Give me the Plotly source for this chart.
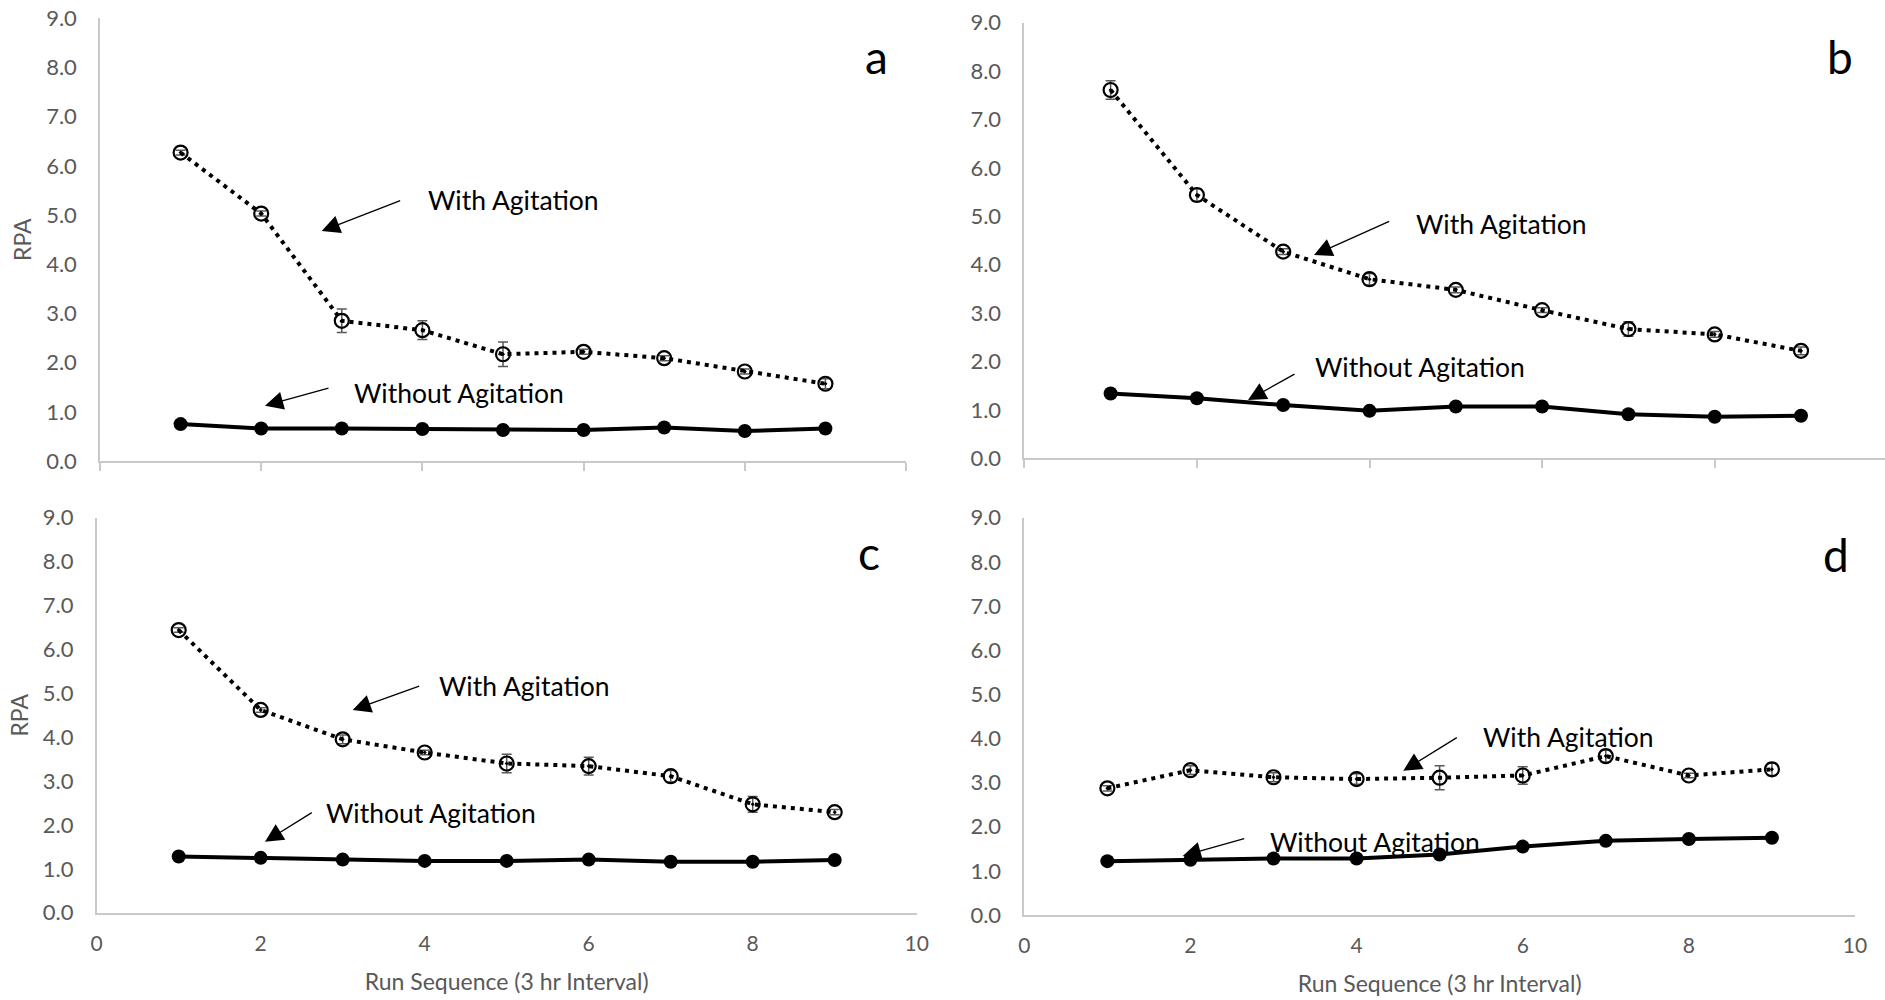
import plotly.graph_objects as go

# ---------------- data ----------------
runs = [1, 2, 3, 4, 5, 6, 7, 8, 9]

a_with = [6.27, 5.03, 2.85, 2.66, 2.17, 2.22, 2.09, 1.82, 1.57]
a_with_err = [0.05, 0.05, 0.24, 0.19, 0.25, 0.05, 0.05, 0.05, 0.10]
a_without = [0.75, 0.66, 0.66, 0.65, 0.63, 0.63, 0.68, 0.61, 0.66]
a_without_err = [0.03, 0.03, 0.03, 0.03, 0.03, 0.03, 0.03, 0.03, 0.03]

b_with = [7.61, 5.44, 4.27, 3.70, 3.48, 3.06, 2.67, 2.56, 2.22]
b_with_err = [0.19, 0.13, 0.06, 0.12, 0.06, 0.05, 0.15, 0.06, 0.08]
b_without = [1.34, 1.24, 1.10, 0.98, 1.07, 1.07, 0.91, 0.86, 0.88]
b_without_err = [0.08, 0.09, 0.03, 0.03, 0.03, 0.03, 0.03, 0.03, 0.03]

c_with = [6.44, 4.62, 3.95, 3.65, 3.40, 3.34, 3.11, 2.47, 2.29]
c_with_err = [0.05, 0.05, 0.10, 0.05, 0.21, 0.20, 0.13, 0.18, 0.06]
c_without = [1.28, 1.25, 1.21, 1.18, 1.18, 1.21, 1.16, 1.16, 1.20]
c_without_err = [0.03, 0.03, 0.03, 0.03, 0.03, 0.03, 0.03, 0.03, 0.03]

d_with = [2.87, 3.28, 3.12, 3.08, 3.11, 3.16, 3.60, 3.16, 3.30]
d_with_err = [0.06, 0.10, 0.10, 0.12, 0.27, 0.20, 0.14, 0.05, 0.14]
d_without = [1.22, 1.25, 1.28, 1.28, 1.37, 1.55, 1.68, 1.72, 1.75]
d_without_err = [0.03, 0.03, 0.03, 0.03, 0.03, 0.03, 0.03, 0.03, 0.03]

panel_letters = ["a", "b", "c", "d"]
label_with = "With Agitation"
label_without = "Without Agitation"
y_title = "RPA"
x_title = "Run Sequence (3 hr Interval)"
y_ticks = [0, 1, 2, 3, 4, 5, 6, 7, 8, 9]

# ---------------- layout helpers ----------------
W, H = 1885, 1000
FONT = "Lato, Carlito, Calibri, 'Open Sans', sans-serif"
GRAY = "#595959"
AXIS_GRAY = "#c9c9c9"


def px(x):
    return x / W


def py(y):
    return 1 - y / H


fig = go.Figure()

panels = [
    (a_with, a_with_err, a_without, a_without_err, "x", "y"),
    (b_with, b_with_err, b_without, b_without_err, "x2", "y2"),
    (c_with, c_with_err, c_without, c_without_err, "x3", "y3"),
    (d_with, d_with_err, d_without, d_without_err, "x4", "y4"),
]

for w, we, wo, woe, xa, ya in panels:
    fig.add_trace(go.Scatter(
        x=runs, y=wo, xaxis=xa, yaxis=ya, mode="lines+markers",
        line=dict(color="black", width=4),
        marker=dict(symbol="circle", size=14, color="black"),
        error_y=dict(type="data", array=woe, visible=True, color=GRAY,
                     thickness=1.5, width=5),
        showlegend=False, name=label_without,
    ))
    fig.add_trace(go.Scatter(
        x=runs, y=w, xaxis=xa, yaxis=ya, mode="lines+markers",
        line=dict(color="black", width=4, dash="4px,5px"),
        marker=dict(symbol="circle-open-dot", size=14, color="black",
                    line=dict(width=2.2, color="black")),
        error_y=dict(type="data", array=we, visible=True, color=GRAY,
                     thickness=1.5, width=5),
        showlegend=False, name=label_with,
    ))

# axis domains measured in pixels (left, right, top, bottom) and x max
geom = {
    "1": (100, 906, 18.3, 461, 10),
    "2": (1024.3, 1885, 22.7, 458.3, (1885 - 1024.3) / 86.3),
    "3": (96.7, 916.7, 517.7, 912.7, 10),
    "4": (1024.3, 1855, 517.7, 915, 10),
}

layout_axes = {}
for k, (l, r, t, b, xmax) in geom.items():
    suffix = "" if k == "1" else k
    bottom_row = k in ("3", "4")
    left_col = k in ("1", "3")
    layout_axes["xaxis" + suffix] = dict(
        domain=[px(l), px(r)], range=[0, xmax], dtick=2, tick0=0,
        showgrid=False, zeroline=False, showline=True, automargin=False,
        linecolor=AXIS_GRAY, linewidth=1.5,
        ticks="" if bottom_row else "outside", ticklen=8,
        tickcolor=AXIS_GRAY, tickwidth=1.5,
        showticklabels=bottom_row, ticklabelstandoff=11,
        tickfont=dict(family=FONT, size=21, color=GRAY),
        anchor="y" + suffix,
        title=dict(text=x_title if bottom_row else "",
                   font=dict(family=FONT, size=23, color=GRAY), standoff=20),
    )
    layout_axes["yaxis" + suffix] = dict(
        domain=[py(b), py(t)], range=[0, 9], tickvals=y_ticks,
        tickformat=".1f", showgrid=False, zeroline=False, showline=True,
        automargin=False,
        linecolor=AXIS_GRAY, linewidth=1.5, ticks="",
        ticklabelstandoff=17,
        tickfont=dict(family=FONT, size=22, color=GRAY),
        anchor="x" + suffix,
        title=dict(text=y_title if left_col else "",
                   font=dict(family=FONT, size=23, color=GRAY), standoff=8),
    )

annotations = []

# text labels: (text, left x, center y)
texts = [
    (label_with, 426, 200), (label_without, 351.7, 393.3),
    (label_with, 1414, 224), (label_without, 1312.7, 366.7),
    (label_with, 436.7, 686), (label_without, 324, 813.3),
    (label_with, 1481, 736.7), (label_without, 1268.3, 841.7),
]
for t, x, y in texts:
    annotations.append(dict(
        text=t, x=px(x), y=py(y), xref="paper", yref="paper",
        xanchor="left", yanchor="middle", showarrow=False,
        font=dict(family=FONT, size=26.5, color="black"),
    ))

# arrows: (tail x, tail y, tip x, tip y)
arrows = [
    (401.7, 200, 321.7, 231), (330, 387.7, 265, 405.7),
    (1390.7, 220.7, 1314, 255), (1296, 373.3, 1248, 400),
    (420.7, 685.7, 352.7, 710), (313.3, 811.7, 265, 841.7),
    (1458.3, 736.7, 1403.3, 770.7), (1245.7, 838.3, 1182.7, 856),
]
for tx, ty, hx, hy in arrows:
    annotations.append(dict(
        text="", x=px(hx), y=py(hy), xref="paper", yref="paper",
        ax=tx - hx, ay=ty - hy, axref="pixel", ayref="pixel",
        showarrow=True, arrowhead=2, arrowsize=2.8, arrowwidth=1.3,
        arrowcolor="black", standoff=0,
    ))

# panel letters: (letter, center x, center y)
letter_pos = [(876, 56), (1840, 56), (869, 552), (1836, 554)]
for letter, (x, y) in zip(panel_letters, letter_pos):
    annotations.append(dict(
        text=letter, x=px(x), y=py(y), xref="paper", yref="paper",
        xanchor="center", yanchor="middle", showarrow=False,
        font=dict(family=FONT, size=46, color="black"),
    ))

fig.update_layout(
    width=W, height=H, autosize=False,
    margin=dict(l=0, r=0, t=0, b=0, autoexpand=False),
    paper_bgcolor="white", plot_bgcolor="white",
    annotations=annotations,
    **layout_axes,
)

fig.write_html(
    "out.html",
    config={"displayModeBar": False},
    post_script="document.body.style.margin='0';document.body.style.overflow='hidden';",
)
